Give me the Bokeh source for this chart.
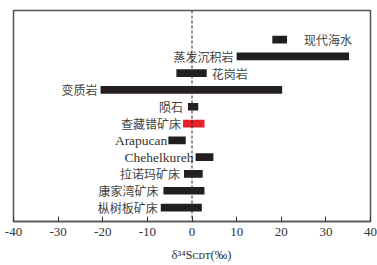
from bokeh.plotting import figure
from bokeh.models import ColumnDataSource, Range1d, Span, Label, FixedTicker
from bokeh.core.properties import value
from bokeh.embed import file_html
from bokeh.resources import INLINE

# ---- data ----
categories = ["现代海水", "蒸发沉积岩", "花岗岩", "变质岩", "陨石", "查藏错矿床",
              "Arapucan", "Chehelkureh", "拉诺玛矿床", "康家湾矿床", "枞树板矿床"]
s34_low = [18.0, 10.0, -3.5, -20.5, -0.9, -2.0, -5.3, 0.8, -1.8, -6.4, -7.0]
s34_high = [21.3, 35.2, 3.3, 20.2, 1.4, 2.8, -1.4, 4.8, 2.4, 2.8, 2.2]
x_ticks = [-40, -30, -20, -10, 0, 10, 20, 30, 40]
x_tick_labels = ["-40", "-30", "-20", "-10", "0", "10", "20", "30", "40"]
x_title = "δ³⁴Sᴄᴅᴛ(‰)"

# ---- styles ----
bar_colors = ["#231f20"] * 11
bar_colors[5] = "#e8212a"
label_side = ["right", "left", "right", "left", "left", "left",
              "left", "left", "left", "left", "left"]
label_gap = [17, 3, 5, 3, 5, 2, 1, 2, 4, 5, 3]
is_latin = [c.isascii() for c in categories]

rows = list(range(len(categories)))

p = figure(width=377, height=265, output_backend="svg", toolbar_location=None,
           x_range=Range1d(-40, 40), y_range=Range1d(10.83, -1.73),
           y_axis_location=None,
           min_border_left=13, min_border_right=7, min_border_top=10, min_border_bottom=44)
p.grid.visible = False
p.outline_line_color = "#555555"
p.outline_line_width = 1.5
p.background_fill_color = "white"
p.border_fill_color = "white"

src = ColumnDataSource(dict(y=rows, left=s34_low, right=s34_high, color=bar_colors))
p.hbar(y="y", left="left", right="right", height=0.46, fill_color="color",
       line_color=None, source=src)

p.add_layout(Span(location=0, dimension="height", line_color="#222222",
                  line_width=1, line_dash="3 2"))

# category labels
def label_source(latin):
    d = dict(x=[], y=[], text=[], align=[], xo=[])
    for i, c in enumerate(categories):
        if is_latin[i] != latin:
            continue
        if label_side[i] == "left":
            d["x"].append(s34_low[i]); d["align"].append("right"); d["xo"].append(-label_gap[i])
        else:
            d["x"].append(s34_high[i]); d["align"].append("left"); d["xo"].append(label_gap[i])
        d["y"].append(rows[i]); d["text"].append(c)
    return ColumnDataSource(d)

p.text(x="x", y="y", text="text", text_align="align", x_offset="xo",
       text_baseline="middle", text_font=value("Noto Sans CJK SC"),
       text_font_size="12px", text_color="#444444", source=label_source(False))
p.text(x="x", y="y", text="text", text_align="align", x_offset="xo",
       text_baseline="middle", text_font=value("Liberation Serif"),
       text_font_size="13.5px", text_color="#333333", source=label_source(True))

# x axis
ax = p.xaxis[0]
ax.ticker = FixedTicker(ticks=x_ticks)
ax.major_label_overrides = {t: s for t, s in zip(x_ticks, x_tick_labels)}
ax.major_tick_in = 5
ax.major_tick_out = 0
ax.minor_tick_line_color = None
ax.axis_line_color = "#555555"
ax.axis_line_width = 1.5
ax.major_tick_line_color = "#333333"
ax.major_label_text_font = "Liberation Serif"
ax.major_label_text_font_size = "13px"
ax.major_label_text_color = "#333333"
ax.major_label_standoff = 6

# axis title placed in the bottom panel
p.add_layout(Label(x=188, y=-2, x_units="screen", y_units="screen", text=x_title,
                   text_align="center", text_baseline="alphabetic",
                   text_font="Liberation Serif", text_font_size="12.5px",
                   text_color="#333333"), "below")

open("out.html", "w").write(file_html(p, INLINE))
